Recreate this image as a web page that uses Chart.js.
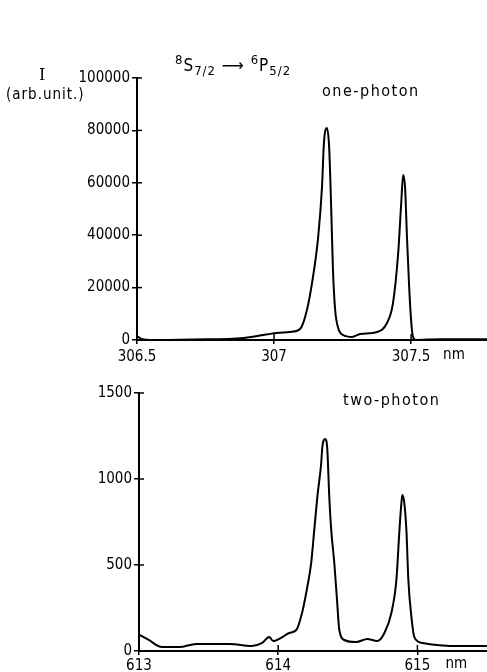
<!DOCTYPE html>
<html>
<head>
<meta charset="utf-8">
<script src="https://cdn.jsdelivr.net/npm/chart.js@4/dist/chart.umd.min.js"></script>
<style>
  html, body { margin:0; padding:0; background:#fff; }
  body { width:487px; height:672px; position:relative; overflow:hidden;
         font-family:'DejaVu Sans Condensed','DejaVu Sans',sans-serif; color:#000; }
  .cv { position:absolute; left:0; }
  .lbl { position:absolute; white-space:nowrap; font-size:15px; line-height:1; }
  sub, sup { font-size:13px; line-height:0; }
</style>
</head>
<body>
<canvas id="c1" class="cv" width="487" height="365" style="top:0;width:487px;height:365px"></canvas>
<canvas id="c2" class="cv" width="487" height="307" style="top:365px;width:487px;height:307px"></canvas>

<div class="lbl" style="left:39px;top:67px;font-family:'DejaVu Serif',serif;font-size:16px;">I</div>
<div class="lbl" style="left:6px;top:87px;font-size:15px;letter-spacing:1px;">(arb.unit.)</div>
<div class="lbl" style="left:175px;top:57px;font-size:17px;letter-spacing:1px;"><sup>8</sup>S<sub>7/2</sub> &#10230; <sup>6</sup>P<sub>5/2</sub></div>
<div class="lbl" style="left:322px;top:83px;font-size:16px;letter-spacing:1.5px;">one-photon</div>
<div class="lbl" style="left:343px;top:392px;font-size:16px;letter-spacing:1.5px;">two-photon</div>

<script>
// ---- one-photon spectrum (wavelength nm, intensity arb. unit) ----
const onePhotonX = [306.50,306.52,306.55,306.70,306.89,307.01,307.058,307.095,307.120,307.142,307.161,307.175,307.182,307.193,307.201,307.208,307.215,307.223,307.234,307.252,307.285,307.314,307.376,307.412,307.434,307.453,307.464,307.471,307.478,307.485,307.493,307.500,307.507,307.518,307.60,307.777];
const onePhotonY = [1500,300,0,200,800,2700,3050,4200,11450,24000,39300,58400,75200,80900,73700,52300,26700,11450,4600,1900,1150,2300,3050,6500,14100,33200,52300,63000,58400,39300,20200,7600,1150,0,300,300];
const oneXTicks = [306.5, 307, 307.5];
const oneXTickLabels = ['306.5', '307', '307.5'];
const oneYTicks = [0, 20000, 40000, 60000, 80000, 100000];

// ---- two-photon spectrum ----
const twoPhotonX = [613.000,613.07,613.165,613.29,613.41,613.65,613.81,613.885,613.935,613.964,614.03,614.079,614.13,614.173,614.209,614.237,614.259,614.281,614.309,614.317,614.338,614.353,614.367,614.381,614.403,614.424,614.439,614.475,614.561,614.640,614.712,614.763,614.813,614.849,614.871,614.885,614.892,614.906,614.921,614.935,614.957,614.978,615.036,615.324,615.50];
const twoPhotonY = [95,64,23,23,41,41,29,47,81,58,81,105,122,227,372,512,703,895,1093,1186,1233,1169,895,703,512,279,122,64,52,70,58,105,221,413,703,860,907,860,703,413,198,81,47,29,29];
const twoXTicks = [613, 614, 615];
const twoXTickLabels = ['613', '614', '615'];
const twoYTicks = [0, 500, 1000, 1500];

const FONT = {family:"'DejaVu Sans Condensed','DejaVu Sans',sans-serif", size:15};

function makePts(xs, ys){ return xs.map((x,i)=>({x:x, y:ys[i]})); }

const crossTicks = {
  id:'crossTicks',
  afterDraw(chart, args, opts){
    const ctx = chart.ctx, xs = chart.scales.x, ys = chart.scales.y, a = chart.chartArea;
    ctx.save();
    ctx.strokeStyle = '#000'; ctx.lineWidth = 1.5;
    ys.ticks.forEach(t=>{
      const p = ys.getPixelForValue(t.value);
      ctx.beginPath(); ctx.moveTo(a.left, p); ctx.lineTo(a.left+5, p); ctx.stroke();
    });
    xs.ticks.forEach(t=>{
      const p = xs.getPixelForValue(t.value);
      ctx.beginPath(); ctx.moveTo(p, a.bottom); ctx.lineTo(p, a.bottom-6); ctx.stroke();
    });
    // unit label after the last tick label
    const last = xs.ticks[xs.ticks.length-1].value;
    ctx.fillStyle = '#000';
    ctx.font = FONT.size + 'px ' + FONT.family;
    ctx.textBaseline = 'middle';
    ctx.textAlign = 'left';
    ctx.fillText('nm', xs.getPixelForValue(last) + opts.nmOffset, a.bottom + opts.nmDy);
    ctx.restore();
  }
};

function build(id, xs, ys, xTicks, xLabels, yTicks, xMax, padTop, xHeight, leftW, nmOffset, nmDy, xPad){
  return new Chart(document.getElementById(id), {
    type:'line',
    data:{ datasets:[{ data: makePts(xs, ys), borderColor:'#000', borderWidth:2,
                       pointRadius:0, tension:0.2, cubicInterpolationMode:'monotone', fill:false }]},
    options:{
      responsive:false, animation:false,
      layout:{ padding:{ top:padTop, right:0, left:0, bottom:0 } },
      plugins:{ legend:{display:false}, tooltip:{enabled:false}, crossTicks:{ nmOffset:nmOffset, nmDy:nmDy } },
      scales:{
        x:{ type:'linear', min:xTicks[0], max:xMax,
            afterBuildTicks:(s)=>{ s.ticks = xTicks.map(v=>({value:v})); },
            afterFit:(s)=>{ s.height = xHeight; },
            ticks:{ color:'#000', font:FONT, padding:xPad, maxRotation:0, autoSkip:false,
                    callback:(v)=>{ const i = xTicks.indexOf(v); return i>=0 ? xLabels[i] : ''; } },
            grid:{ drawOnChartArea:false, tickLength:4, color:'#000', lineWidth:1.5 },
            border:{ color:'#000', width:2 } },
        y:{ min:yTicks[0], max:yTicks[yTicks.length-1],
            afterBuildTicks:(s)=>{ s.ticks = yTicks.map(v=>({value:v})); },
            afterFit:(s)=>{ s.width = leftW; },
            ticks:{ color:'#000', font:FONT, padding:2, callback:(v)=>String(v) },
            grid:{ drawOnChartArea:false, tickLength:5, color:'#000', lineWidth:1.5 },
            border:{ color:'#000', width:2 } }
      }
    },
    plugins:[crossTicks]
  });
}

build('c1', onePhotonX, onePhotonY, oneXTicks, oneXTickLabels, oneYTicks, 307.777, 78, 25, 137, 32, 15, 4);
build('c2', twoPhotonX, twoPhotonY, twoXTicks, twoXTickLabels, twoYTicks, 615.5, 28, 21, 139, 28, 13, 2);
</script>
</body>
</html>
